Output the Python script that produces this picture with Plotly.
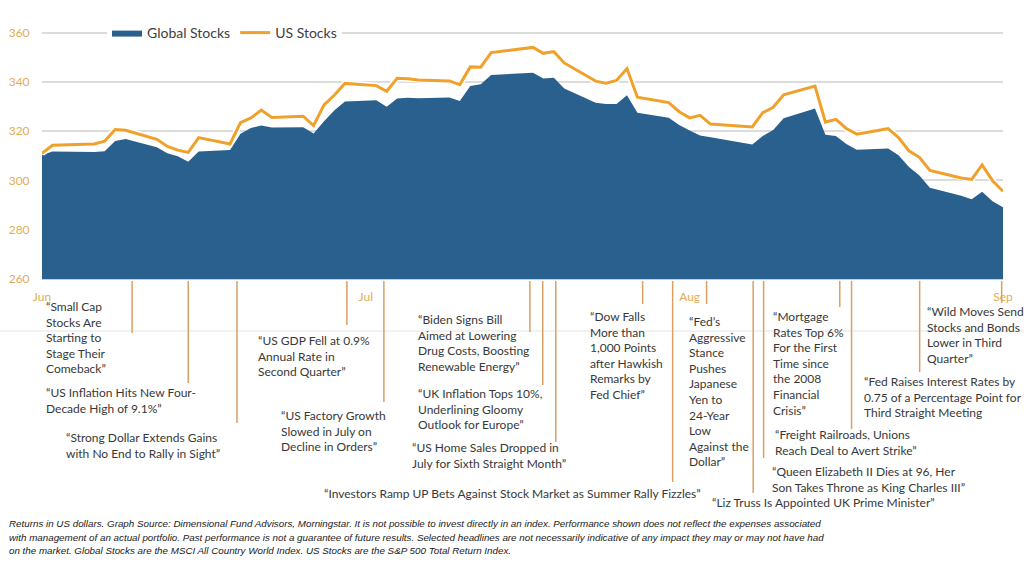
import plotly.graph_objects as go

# ---------------- data ----------------
trade_dates = [
    "2022-06-30",
    "2022-07-01", "2022-07-05", "2022-07-06", "2022-07-07", "2022-07-08",
    "2022-07-11", "2022-07-12", "2022-07-13", "2022-07-14", "2022-07-15",
    "2022-07-18", "2022-07-19", "2022-07-20", "2022-07-21", "2022-07-22",
    "2022-07-25", "2022-07-26", "2022-07-27", "2022-07-28", "2022-07-29",
    "2022-08-01", "2022-08-02", "2022-08-03", "2022-08-04", "2022-08-05",
    "2022-08-08", "2022-08-09", "2022-08-10", "2022-08-11", "2022-08-12",
    "2022-08-15", "2022-08-16", "2022-08-17", "2022-08-18", "2022-08-19",
    "2022-08-22", "2022-08-23", "2022-08-24", "2022-08-25", "2022-08-26",
    "2022-08-29", "2022-08-30", "2022-08-31",
    "2022-09-01", "2022-09-02", "2022-09-06", "2022-09-07", "2022-09-08",
    "2022-09-09", "2022-09-12", "2022-09-13", "2022-09-14", "2022-09-15",
    "2022-09-16", "2022-09-19", "2022-09-20", "2022-09-21", "2022-09-22",
    "2022-09-23", "2022-09-26", "2022-09-27", "2022-09-28", "2022-09-29",
    "2022-09-30",
]

global_stocks = [
    310.3,
    311.8, 311.5, 311.9, 316.0, 316.8, 313.5, 311.0, 309.8, 307.6, 311.8,
    312.4, 319.0, 321.3, 322.3, 321.5, 321.6, 319.1, 324.0, 328.5, 332.0,
    332.6, 329.9, 333.3, 333.6, 333.4, 333.7, 332.3, 338.3, 339.1, 342.8,
    343.3, 343.7, 341.4, 341.7, 337.3, 331.5, 331.0, 331.0, 334.6, 327.5,
    325.5, 322.5, 320.3,
    318.2, 317.5, 314.6, 318.0, 320.5, 325.2, 329.2, 318.6, 318.0, 314.8,
    312.5, 313.0, 310.2, 305.5, 302.0, 297.0, 293.8, 292.4, 295.4, 291.6,
    289.1,
]

us_stocks = [
    311.0,
    314.3, 314.8, 315.9, 320.7, 320.4, 316.7, 313.8, 312.3, 311.4, 317.4,
    314.8, 323.5, 325.4, 328.6, 325.6, 326.1, 322.3, 330.7, 334.7, 339.4,
    338.5, 336.2, 341.5, 341.3, 340.8, 340.4, 338.9, 346.1, 346.0, 351.9,
    353.3, 354.0, 351.6, 352.3, 347.7, 340.3, 339.5, 340.6, 345.4, 333.8,
    331.6, 327.9, 325.4,
    326.4, 322.9, 321.7, 327.5, 329.7, 334.8, 338.3, 323.7, 324.8, 321.1,
    318.8, 321.0, 317.4, 312.0, 309.4, 304.1, 301.0, 300.4, 306.3, 299.9,
    295.6,
]

y_ticks = [260, 280, 300, 320, 340, 360]
month_tick_dates = ["2022-06-30", "2022-07-31", "2022-08-31", "2022-09-30"]
month_tick_labels = ["Jun", "Jul", "Aug", "Sep"]

event_dates = [
    "2022-07-08 15:00", "2022-07-14 00:00", "2022-07-18 16:00",
    "2022-07-29 04:30", "2022-08-01 17:30", "2022-08-15 17:00",
    "2022-08-16 22:30", "2022-08-18 04:30", "2022-08-26 12:00",
    "2022-08-29 09:00", "2022-09-01 15:00", "2022-09-06 02:00",
    "2022-09-07 02:00", "2022-09-14 09:00", "2022-09-15 12:00",
    "2022-09-22 00:30", "2022-09-29 21:00",
]
event_headlines = [
    "“Small Cap<br>Stocks Are<br>Starting to<br>Stage Their<br>Comeback”",
    "“US Inflation Hits New Four-<br>Decade High of 9.1%”",
    "“Strong Dollar Extends Gains<br>with No End to Rally in Sight”",
    "“US GDP Fell at 0.9%<br>Annual Rate in<br>Second Quarter”",
    "“US Factory Growth<br>Slowed in July on<br>Decline in Orders”",
    "“Biden Signs Bill<br>Aimed at Lowering<br>Drug Costs, Boosting<br>Renewable Energy”",
    "“UK Inflation Tops 10%,<br>Underlining Gloomy<br>Outlook for Europe”",
    "“US Home Sales Dropped in<br>July for Sixth Straight Month”",
    "“Dow Falls<br>More than<br>1,000 Points<br>after Hawkish<br>Remarks by<br>Fed Chief”",
    "“Investors Ramp UP Bets Against Stock Market as Summer Rally Fizzles”",
    "“Fed’s<br>Aggressive<br>Stance<br>Pushes<br>Japanese<br>Yen to<br>24-Year<br>Low<br>Against the<br>Dollar”",
    "“Liz Truss Is Appointed UK Prime Minister”",
    "“Queen Elizabeth II Dies at 96, Her<br>Son Takes Throne as King Charles III”",
    "“Mortgage<br>Rates Top 6%<br>For the First<br>Time since<br>the 2008<br>Financial<br>Crisis”",
    "“Freight Railroads, Unions<br>Reach Deal to Avert Strike”",
    "“Fed Raises Interest Rates by<br>0.75 of a Percentage Point for<br>Third Straight Meeting",
    "“Wild Moves Send<br>Stocks and Bonds<br>Lower in Third<br>Quarter”",
]

footer_lines = [
    "Returns in US dollars. Graph Source: Dimensional Fund Advisors, Morningstar. It is not possible to invest directly in an index. Performance shown does not reflect the expenses associated",
    "with management of an actual portfolio. Past performance is not a guarantee of future results. Selected headlines are not necessarily indicative of any impact they may or may not have had",
    "on the market. Global Stocks are the MSCI All Country World Index. US Stocks are the S&P 500 Total Return Index.",
]

# ---------------- layout geometry (pixels) ----------------
W, H = 1024, 563
ML, MR, MT, MB = 42, 21, 8, 284
PW, PH = W - ML - MR, H - MT - MB


def px_x(px):
    return (px - ML) / PW


def px_y(py):
    return (H - MB - py) / PH


# per-event: line bottom (px), text left (px), text vertical centre (px)
event_layout = [
    (333, 44, 337.5), (383, 44, 400.5), (423, 64, 445.9),
    (325, 256, 356), (402, 279, 430.9), (332, 416, 343.4),
    (385, 416, 408.7), (442, 410, 455.5), (304, 588, 355),
    (482, 322, 493.3), (304, 687, 391.7), (493, 710, 502.7),
    (458, 770, 479.2), (307, 771, 363.7), (429, 773, 442.9),
    (372, 862, 397.2), (303, 925, 334.9),
]

BLUE = "#29608E"
ORANGE = "#F0A12C"
TAN = "#D9A064"
TICK = "#E3AC58"
TEXT = "#383838"
FONT = "Lato"

fig = go.Figure()
fig.add_trace(go.Scatter(
    x=trade_dates, y=global_stocks, name="Global Stocks", mode="lines",
    fill="tozeroy", fillcolor=BLUE, line=dict(color=BLUE, width=0),
    hoverinfo="skip",
))
fig.add_trace(go.Scatter(
    x=trade_dates, y=us_stocks, mode="lines", showlegend=False,
    line=dict(color="white", width=6), hoverinfo="skip",
))
fig.add_trace(go.Scatter(
    x=trade_dates, y=us_stocks, name="US Stocks", mode="lines",
    line=dict(color=ORANGE, width=3), hoverinfo="skip",
))

shapes = []
annotations = []
for d, txt, (ybot, tleft, tcen) in zip(event_dates, event_headlines, event_layout):
    shapes.append(dict(
        type="line", xref="x", yref="paper", x0=d, x1=d,
        y0=px_y(281), y1=px_y(ybot), line=dict(color=TAN, width=1.5),
    ))
    annotations.append(dict(
        text=txt, xref="paper", yref="paper", x=px_x(tleft), y=px_y(tcen),
        xanchor="left", yanchor="middle", align="left", showarrow=False,
        font=dict(family=FONT, size=12, color=TEXT),
    ))

# faint frame line under the axis
shapes.append(dict(type="line", xref="paper", yref="paper",
                   x0=px_x(0), x1=px_x(W), y0=px_y(331), y1=px_y(331),
                   line=dict(color="#E4E4E4", width=1), layer="below"))

for i, line in enumerate(footer_lines):
    annotations.append(dict(
        text="<i>" + line + "</i>", xref="paper", yref="paper",
        x=px_x(7), y=px_y(523 + 14 * i), xanchor="left", yanchor="middle",
        align="left", showarrow=False,
        font=dict(family="Liberation Sans", size=9.8, color="#1A1A1A"),
    ))

fig.update_layout(
    width=W, height=H, margin=dict(l=ML, r=MR, t=MT, b=MB),
    paper_bgcolor="white", plot_bgcolor="white",
    font=dict(family=FONT),
    shapes=shapes, annotations=annotations,
    legend=dict(orientation="h", x=px_x(107), y=px_y(33),
                xanchor="left", yanchor="middle", bgcolor="white",
                font=dict(family=FONT, size=14, color="#404040"),
                itemwidth=30),
    xaxis=dict(
        type="date", range=["2022-06-30", "2022-09-30"],
        tickvals=month_tick_dates, ticktext=month_tick_labels,
        tickfont=dict(family=FONT, size=12, color=TICK),
        ticks="outside", ticklen=7, tickcolor="rgba(0,0,0,0)",
        showgrid=False, zeroline=False, showline=True,
        linecolor="#BFD0E0", linewidth=1,
    ),
    yaxis=dict(
        range=[260, 370], tickvals=y_ticks,
        tickfont=dict(family=FONT, size=12, color=TICK),
        ticks="outside", ticklen=9, tickcolor="rgba(0,0,0,0)",
        showgrid=True, gridcolor="#DCDCDC", gridwidth=1.5,
        zeroline=False, showline=False,
    ),
)

fig.write_html("out.html", config={"displayModeBar": False})
